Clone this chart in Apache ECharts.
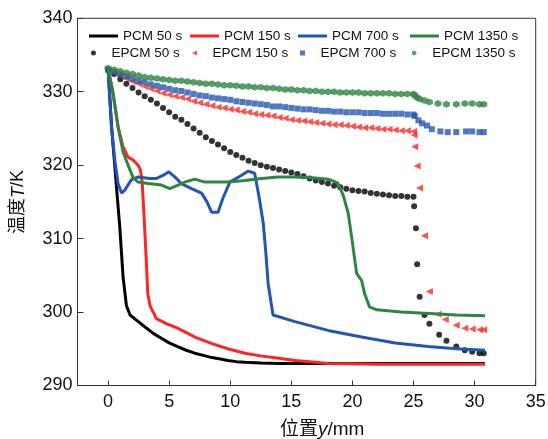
<!DOCTYPE html>
<html>
<head>
<meta charset="utf-8">
<script src="https://cdn.jsdelivr.net/npm/echarts@6/dist/echarts.min.js"></script>
<style>
  html, body { margin: 0; padding: 0; background: #fff; }
  #chart { width: 548px; height: 439px; }
</style>
</head>
<body>
<div id="chart"></div>
<script>
// Temperature profiles along the position y for plain PCM (lines) and EPCM (markers)
const xTicks = [0, 5, 10, 15, 20, 25, 30, 35];
const yTicks = [290, 300, 310, 320, 330, 340];

const seriesNames = ['PCM 50 s', 'PCM 150 s', 'PCM 700 s', 'PCM 1350 s',
                     'EPCM 50 s', 'EPCM 150 s', 'EPCM 700 s', 'EPCM 1350 s'];

// PCM, position (mm) and temperature (K)
const pcm50X = [0, 0.3, 0.69, 0.96, 1.23, 1.5, 1.8, 2.4, 3.0, 3.7, 4.4, 5.0, 5.7, 6.4, 7.1, 7.8, 8.5, 9.2, 9.8, 10.5, 11.2, 12.5, 14, 16, 18, 20, 22, 25, 28, 30.85];
const pcm50T = [333.2, 325.0, 317.0, 311.6, 304.8, 300.9, 299.6, 298.8, 298.0, 297.1, 296.4, 295.8, 295.3, 294.8, 294.4, 294.1, 293.8, 293.6, 293.4, 293.25, 293.15, 293.05, 293.0, 293.0, 293.0, 293.0, 293.0, 293.0, 293.0, 293.0];

const pcm150X = [0, 0.41, 0.82, 1.23, 1.64, 2.05, 2.46, 2.65, 2.8, 2.95, 3.1, 3.25, 3.45, 3.96, 4.8, 5.7, 6.4, 7.1, 8.5, 9.8, 11.2, 12.6, 14, 15.3, 16.7, 18, 20, 22, 25, 28, 30.85];
const pcm150T = [333.2, 329.8, 325.2, 322.5, 321.1, 320.7, 320.0, 319.4, 317.5, 313.0, 308.0, 302.5, 300.8, 299.1, 298.4, 297.8, 297.2, 296.6, 295.7, 295.0, 294.4, 294.0, 293.7, 293.4, 293.2, 293.0, 292.95, 292.9, 292.9, 292.9, 292.9];

const pcm700X = [0, 0.28, 0.55, 0.82, 1.1, 1.37, 1.9, 2.46, 3.41, 3.96, 4.5, 4.97, 5.46, 6.0, 6.83, 7.65, 8.1, 8.47, 9.0, 9.4, 9.97, 10.9, 11.47, 12.0, 12.4, 12.7, 12.9, 13.1, 13.5, 15.3, 18.0, 20.75, 23.5, 26.2, 28.5, 30.85];
const pcm700T = [333.2, 325.2, 320.7, 317.5, 316.2, 316.6, 318.0, 318.4, 318.2, 318.2, 318.6, 319.1, 318.4, 317.5, 316.8, 316.2, 315.0, 313.6, 313.6, 315.5, 317.7, 318.6, 319.2, 318.9, 315.3, 312.1, 308.4, 303.9, 299.6, 298.7, 297.5, 296.6, 295.8, 295.3, 295.0, 294.8];

const pcm1350X = [0, 0.41, 0.82, 1.23, 1.64, 2.05, 2.46, 3.28, 4.37, 5.05, 5.73, 6.28, 7.1, 7.92, 9.83, 11.2, 12.56, 13.9, 15.3, 16.7, 18.0, 18.8, 19.25, 19.66, 19.93, 20.34, 20.75, 21.0, 21.4, 22.0, 24, 26.3, 28.5, 30.85];
const pcm1350T = [333.2, 329.8, 325.2, 321.8, 320.0, 318.3, 317.7, 317.5, 317.3, 316.8, 317.3, 317.7, 318.1, 317.7, 317.7, 317.9, 318.2, 318.4, 318.4, 318.3, 318.1, 317.6, 315.9, 313.4, 310.3, 305.3, 304.3, 302.5, 300.7, 300.3, 300.0, 299.8, 299.6, 299.5];

// EPCM, regular positions 0–25 mm
const epcmX = [0, 0.5, 1, 1.5, 2, 2.5, 3, 3.5, 4, 4.5, 5, 5.5, 6, 6.5, 7, 7.5, 8, 8.5, 9, 9.5, 10, 10.5, 11, 11.5, 12, 12.5, 13, 13.5, 14, 14.5, 15, 15.5, 16, 16.5, 17, 17.5, 18, 18.5, 19, 19.5, 20, 20.5, 21, 21.5, 22, 22.5, 23, 23.5, 24, 24.5, 25];
const epcm50T = [333.0, 332.4, 331.7, 331.1, 330.5, 329.9, 329.4, 328.9, 328.4, 327.8, 327.2, 326.6, 326.2, 325.6, 325.0, 324.4, 323.8, 323.3, 322.8, 322.3, 321.8, 321.4, 321.0, 320.6, 320.3, 320.0, 319.8, 319.6, 319.4, 319.2, 319.0, 318.8, 318.5, 318.2, 317.9, 317.7, 317.5, 317.2, 317.0, 316.8, 316.6, 316.5, 316.4, 316.2, 316.1, 316.0, 315.9, 315.8, 315.8, 315.7, 315.7];
const epcm150T = [333.0, 332.6, 332.2, 331.8, 331.4, 331.1, 330.7, 330.4, 330.1, 329.8, 329.6, 329.4, 329.2, 329.0, 328.7, 328.5, 328.3, 328.1, 327.9, 327.8, 327.6, 327.5, 327.3, 327.2, 327.0, 326.9, 326.8, 326.7, 326.5, 326.4, 326.2, 326.1, 326.0, 325.9, 325.8, 325.7, 325.6, 325.5, 325.5, 325.4, 325.3, 325.2, 325.1, 325.1, 325.0, 324.9, 324.9, 324.8, 324.7, 324.7, 324.6];
const epcm700T = [333.0, 332.7, 332.4, 332.1, 331.8, 331.5, 331.3, 331.0, 330.8, 330.6, 330.4, 330.2, 330.1, 329.9, 329.7, 329.5, 329.4, 329.2, 329.1, 329.0, 328.9, 328.7, 328.6, 328.5, 328.4, 328.3, 328.2, 328.0, 328.0, 327.9, 327.8, 327.7, 327.6, 327.6, 327.5, 327.4, 327.4, 327.3, 327.3, 327.2, 327.2, 327.2, 327.1, 327.1, 327.1, 327.0, 327.0, 327.0, 327.0, 326.9, 326.9];
const epcm1350T = [333.2, 333.0, 332.8, 332.6, 332.4, 332.2, 332.0, 331.9, 331.8, 331.7, 331.6, 331.5, 331.5, 331.4, 331.3, 331.2, 331.1, 331.1, 331.0, 330.9, 330.9, 330.8, 330.7, 330.7, 330.6, 330.6, 330.5, 330.5, 330.4, 330.3, 330.3, 330.2, 330.2, 330.1, 330.1, 330.0, 330.0, 330.0, 329.9, 329.9, 329.9, 329.9, 329.8, 329.8, 329.8, 329.8, 329.8, 329.7, 329.7, 329.7, 329.7];

// EPCM, points past 25 mm
const epcm50TailX = [25.05, 25.2, 25.3, 25.5, 25.9, 26.3, 27.1, 27.7, 28.5, 29.2, 29.8, 30.4, 30.75];
const epcm50TailT = [314.4, 311.4, 306.5, 302.1, 299.6, 298.4, 296.9, 296.1, 295.3, 294.8, 294.6, 294.4, 294.4];
const epcm150TailX = [25.05, 25.1, 25.3, 25.5, 25.9, 26.3, 27.0, 27.6, 28.5, 29.2, 29.8, 30.4, 30.75];
const epcm150TailT = [324.1, 322.5, 319.9, 316.9, 310.4, 302.8, 299.7, 299.0, 298.2, 297.8, 297.7, 297.6, 297.6];
const epcm700TailX = [25.1, 25.4, 25.7, 26.1, 26.5, 27.2, 27.8, 28.5, 29.3, 29.8, 30.4, 30.75];
const epcm700TailT = [326.7, 326.1, 325.7, 325.4, 324.9, 324.6, 324.5, 324.5, 324.6, 324.6, 324.5, 324.5];
const epcm1350TailX = [25.1, 25.3, 25.5, 25.9, 26.3, 27.0, 27.7, 28.5, 29.2, 29.8, 30.4, 30.75];
const epcm1350TailT = [329.5, 329.2, 329.0, 328.8, 328.6, 328.4, 328.3, 328.3, 328.4, 328.4, 328.3, 328.3];

const colors = ['#000000', '#ff2424', '#2356b2', '#2e8542'];

function pairs(xs, ys) {
  return xs.map((x, i) => [x, ys[i]]);
}

const leftTriangle = 'path://M0,5 L10,0 L10,10 Z';
const hexagon = 'path://M5,0 L9.33,2.5 L9.33,7.5 L5,10 L0.67,7.5 L0.67,2.5 Z';
const square = 'path://M0,0 L10,0 L10,10 L0,10 Z';
const dot = 'path://M5,0 A5,5 0 1 1 4.99,0 Z';

const lineSets = [[pcm50X, pcm50T], [pcm150X, pcm150T], [pcm700X, pcm700T], [pcm1350X, pcm1350T]];
const dotSets = [
  [epcm50T, epcm50TailX, epcm50TailT, 'circle', 6, dot],
  [epcm150T, epcm150TailX, epcm150TailT, leftTriangle, 7, leftTriangle],
  [epcm700T, epcm700TailX, epcm700TailT, square, 6, square],
  [epcm1350T, epcm1350TailX, epcm1350TailT, hexagon, 7, hexagon]
];

const series = [];
lineSets.forEach((s, i) => {
  series.push({
    name: seriesNames[i], type: 'line', data: pairs(s[0], s[1]),
    symbol: 'none', lineStyle: { width: 3, color: colors[i] }, itemStyle: { color: colors[i] },
    animation: false
  });
});
dotSets.forEach((s, i) => {
  series.push({
    name: seriesNames[i + 4], type: 'scatter',
    data: pairs(epcmX, s[0]).concat(pairs(s[1], s[2])),
    symbol: s[3], symbolSize: s[4], itemStyle: { color: colors[i] },
    animation: false
  });
});

const font = 'Liberation Sans, Arial, Noto Sans CJK SC, sans-serif';
const legendLeft = [89, 190, 298, 410];
const legends = [];
seriesNames.forEach((n, i) => {
  const row = i < 4 ? 0 : 1;
  const col = i % 4;
  legends.push({
    data: [{ name: n, icon: row === 0 ? 'rect' : dotSets[col][5] }],
    left: row === 0 ? legendLeft[col] : legendLeft[col] + 2,
    top: row === 0 ? 28 : 45,
    padding: 0,
    itemWidth: row === 0 ? 29 : 26,
    itemHeight: row === 0 ? 3 : 5,
    symbolKeepAspect: true,
    selectedMode: false,
    textStyle: { fontFamily: font, fontSize: 13.5, color: '#111', lineHeight: 16 }
  });
});

const chart = echarts.init(document.getElementById('chart'), null, { renderer: 'canvas' });
chart.setOption({
  backgroundColor: '#fff',
  animation: false,
  legend: legends,
  grid: {
    left: 77.5, right: 12.3, top: 18.3, bottom: 53.5,
    outerBoundsMode: 'none',
    show: true, borderColor: '#333', borderWidth: 1
  },
  xAxis: {
    type: 'value', min: -2.5, max: 35,
    name: '{a|位置}{i|y}{a|/mm}', nameLocation: 'middle', nameGap: 35,
    nameTextStyle: {
      padding: [0, 0, 0, 31],
      rich: {
        a: { fontFamily: font, fontSize: 19, color: '#111' },
        i: { fontFamily: font, fontSize: 19, fontStyle: 'italic', color: '#111' }
      }
    },
    splitLine: { show: false },
    axisLine: { onZero: false, lineStyle: { color: '#333', width: 1 } },
    axisTick: { inside: true, length: 5, customValues: xTicks, lineStyle: { color: '#333' } },
    axisLabel: { customValues: xTicks, fontFamily: font, fontSize: 18, color: '#111', margin: 8 }
  },
  yAxis: {
    type: 'value', min: 290, max: 340, interval: 10,
    name: '{a|温度}{i|T}{a|/K}', nameLocation: 'middle', nameGap: 50,
    nameTextStyle: {
      rich: {
        a: { fontFamily: font, fontSize: 18, color: '#111' },
        i: { fontFamily: font, fontSize: 18, fontStyle: 'italic', color: '#111' }
      }
    },
    splitLine: { show: false },
    axisLine: { onZero: false, lineStyle: { color: '#333', width: 1 } },
    axisTick: { inside: true, length: 6, lineStyle: { color: '#333' } },
    axisLabel: { fontFamily: font, fontSize: 18, color: '#111', margin: 5 }
  },
  series: series
});
</script>
</body>
</html>
